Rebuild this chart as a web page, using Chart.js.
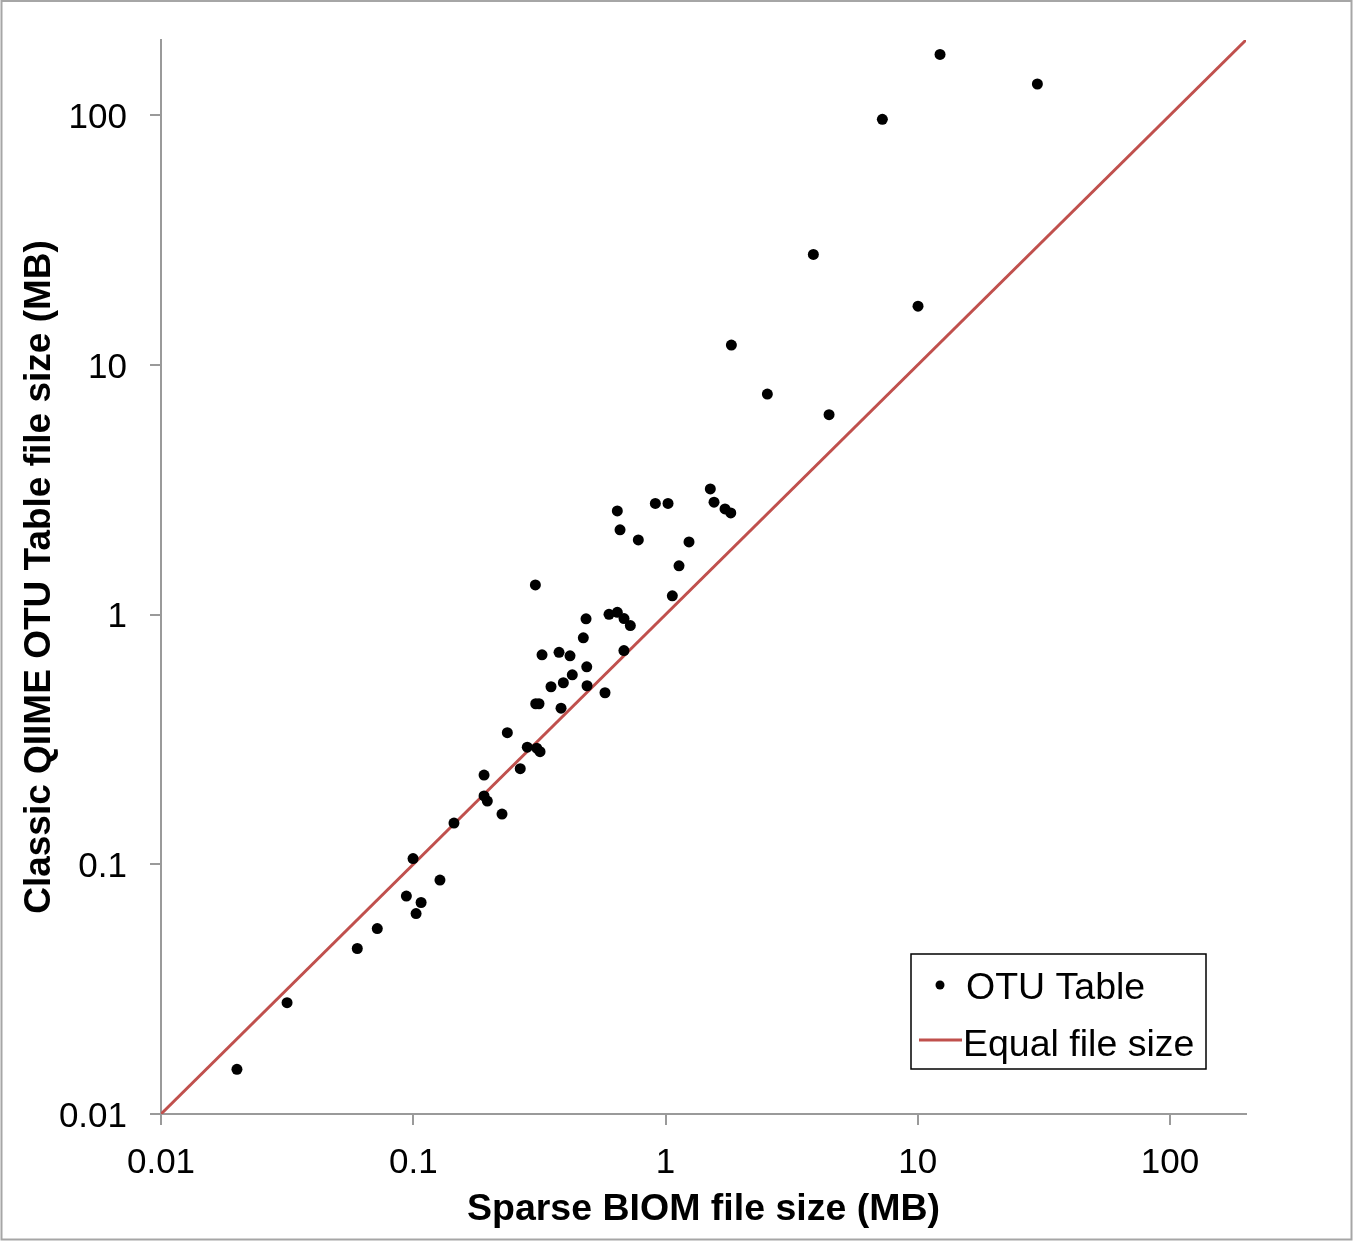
<!DOCTYPE html>
<html>
<head>
<meta charset="utf-8">
<script src="https://cdn.jsdelivr.net/npm/chart.js@4.4.0/dist/chart.umd.min.js"></script>
<style>
html,body{margin:0;padding:0;background:#fff;}
canvas{display:block;}
</style>
</head>
<body>
<canvas id="c" width="1353" height="1241"></canvas>
<script>
// ---- data ----
const sparseBiomMB = [
  0.0200, 0.0316, 0.0600, 0.0720, 0.0939, 0.0998, 0.1026, 0.1074, 0.1276, 0.145,
  0.1908, 0.1908, 0.1966, 0.2248, 0.236, 0.2655, 0.2831, 0.3086, 0.3181, 0.3048,
  0.3058, 0.3151, 0.3239, 0.3516, 0.3783, 0.3853, 0.3935, 0.4182, 0.427, 0.4722,
  0.4841, 0.4872, 0.4885, 0.5756, 0.597, 0.644, 0.644, 0.6601, 0.6846, 0.684,
  0.7252, 0.78, 0.9112, 1.023, 1.064, 1.131, 1.239, 1.505, 1.557, 1.721,
  1.814, 1.824, 2.533, 3.855, 4.449, 7.236, 10.02, 12.25, 29.79
];
const classicOtuMB = [
  0.0151, 0.0279, 0.0460, 0.0553, 0.0746, 0.1054, 0.0635, 0.0703, 0.0865, 0.1462,
  0.2276, 0.1879, 0.1791, 0.1589, 0.3365, 0.2415, 0.2944, 0.2917, 0.2825, 1.315,
  0.4395, 0.4395, 0.6902, 0.514, 0.7063, 0.4217, 0.5333, 0.6839, 0.5741, 0.8072,
  0.9616, 0.618, 0.5188, 0.4864, 1.002, 2.602, 1.021, 2.184, 0.9638, 0.7178,
  0.9036, 1.991, 2.786, 2.786, 1.189, 1.567, 1.955, 3.186, 2.818, 2.649,
  2.553, 12.0, 7.64, 27.7, 6.32, 96.2, 17.18, 175.0, 133.3
];
const equalLineMB = [0.01, 200];
const tickValues = [0.01, 0.1, 1, 10, 100];
const tickLabels = ['0.01', '0.1', '1', '10', '100'];
const seriesNames = ['OTU Table', 'Equal file size'];
const xTitle = 'Sparse BIOM file size (MB)';
const yTitle = 'Classic QIIME OTU Table file size (MB)';

// ---- styling ----
const FONT = 'Liberation Sans, Arial, Helvetica, sans-serif';
const AXIS_GREY = '#9a9a9a';

const framePlugin = {
  id: 'frame',
  beforeDraw(chart) {
    const ctx = chart.ctx;
    ctx.save();
    ctx.fillStyle = '#fff';
    ctx.fillRect(0, 0, chart.width, chart.height);
    ctx.strokeStyle = '#a6a6a6';
    ctx.lineWidth = 2;
    ctx.strokeRect(1.5, 1, chart.width - 3, chart.height - 2.5);
    ctx.restore();
  }
};

const legendPlugin = {
  id: 'boxLegend',
  afterDraw(chart) {
    const ctx = chart.ctx;
    const ca = chart.chartArea;
    const ds = chart.data.datasets;
    const bx = ca.right - 335, by = ca.bottom - 160, bw = 295, bh = 115;
    ctx.save();
    ctx.fillStyle = '#fff';
    ctx.fillRect(bx, by, bw, bh);
    ctx.strokeStyle = '#000';
    ctx.lineWidth = 1.5;
    ctx.strokeRect(bx, by, bw, bh);
    ctx.font = '37.5px ' + FONT;
    ctx.textBaseline = 'middle';
    ctx.textAlign = 'left';
    // item 1: point
    ctx.beginPath();
    ctx.arc(bx + 29, by + 31, 4.5, 0, Math.PI * 2);
    ctx.fillStyle = ds[0].backgroundColor;
    ctx.fill();
    ctx.fillStyle = '#000';
    ctx.fillText(ds[0].label, bx + 55, by + 35);
    // item 2: line
    ctx.beginPath();
    ctx.moveTo(bx + 8, by + 86);
    ctx.lineTo(bx + 51, by + 86);
    ctx.strokeStyle = ds[1].borderColor;
    ctx.lineWidth = 3;
    ctx.stroke();
    ctx.fillText(ds[1].label, bx + 52, by + 92);
    ctx.restore();
  }
};

function axisOpts(titleText, isX) {
  return {
    type: 'logarithmic',
    position: isX ? 'bottom' : 'left',
    min: 0.01,
    max: 200,
    afterBuildTicks: (s) => { s.ticks = tickValues.map(v => ({ value: v })); },
    afterFit: (s) => {
      if (isX) { s.height = 127; } else { s.width = 161; }
      s.paddingTop = 0; s.paddingBottom = 0; s.paddingLeft = 0; s.paddingRight = 0;
    },
    ticks: {
      autoSkip: false,
      maxRotation: 0,
      padding: isX ? 17 : 23,
      labelOffset: isX ? 0 : 3,
      color: '#000',
      font: { family: FONT, size: 35 },
      callback: (v, i) => tickLabels[i]
    },
    grid: {
      display: true,
      drawOnChartArea: false,
      drawTicks: true,
      tickLength: 11,
      color: AXIS_GREY,
      lineWidth: 2
    },
    border: { display: true, color: AXIS_GREY, width: 2 },
    title: {
      display: true,
      text: titleText,
      color: '#000',
      font: { family: FONT, size: isX ? 37.5 : 37, weight: 'bold' },
      padding: isX ? { top: 0, bottom: 8.5 } : { top: 18, bottom: 0 }
    }
  };
}

new Chart(document.getElementById('c'), {
  type: 'scatter',
  data: {
    datasets: [
      {
        label: seriesNames[0],
        data: sparseBiomMB.map((x, i) => ({ x: x, y: classicOtuMB[i] })),
        backgroundColor: '#000',
        borderColor: '#000',
        borderWidth: 0,
        pointRadius: 5.5,
        pointHoverRadius: 5.5,
        order: 0
      },
      {
        type: 'line',
        label: seriesNames[1],
        data: equalLineMB.map(v => ({ x: v, y: v })),
        borderColor: '#C0504D',
        backgroundColor: '#C0504D',
        borderWidth: 3,
        pointRadius: 0,
        fill: false,
        showLine: true,
        order: 1
      }
    ]
  },
  options: {
    responsive: false,
    animation: false,
    devicePixelRatio: 1,
    events: [],
    layout: { padding: { left: 0, top: 40, right: 107, bottom: 0 } },
    plugins: { legend: { display: false }, tooltip: { enabled: false } },
    scales: {
      x: axisOpts(xTitle, true),
      y: axisOpts(yTitle, false)
    }
  },
  plugins: [framePlugin, legendPlugin]
});
</script>
</body>
</html>
